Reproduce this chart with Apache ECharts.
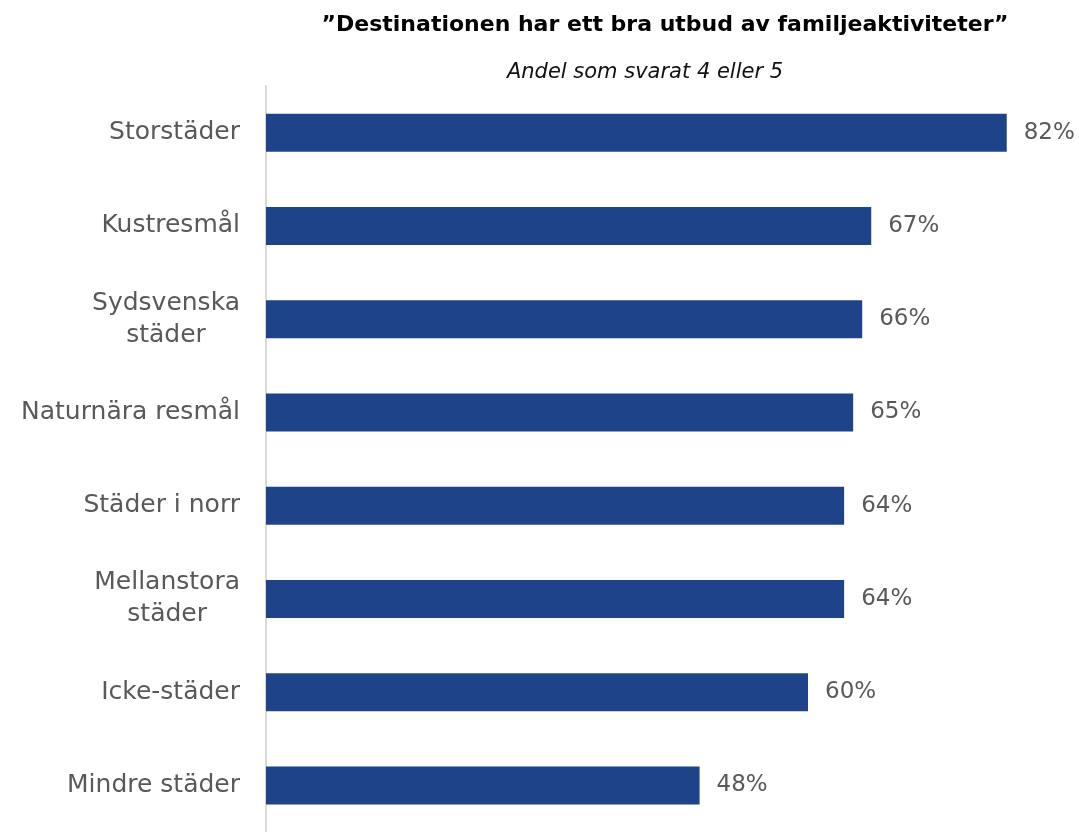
<!DOCTYPE html>
<html>
<head>
<meta charset="utf-8">
<script src="https://cdn.jsdelivr.net/npm/echarts@6/dist/echarts.min.js"></script>
<style>
  html, body { margin: 0; padding: 0; background: #fff; }
  #chart { width: 1079px; height: 832px; }
</style>
</head>
<body>
<div id="chart"></div>
<script>
// Survey categories (top to bottom) and share answering 4 or 5
const categories = [
  'Storstäder',
  'Kustresmål',
  'Sydsvenska\nstäder',
  'Naturnära resmål',
  'Städer i norr',
  'Mellanstora\nstäder',
  'Icke-städer',
  'Mindre städer'
];
const shares = [82, 67, 66, 65, 64, 64, 60, 48];

const titleText = '”Destinationen har ett bra utbud av familjeaktiviteter”';
const subtitleText = 'Andel som svarat 4 eller 5';

const FONT = '"DejaVu Sans", sans-serif';
const GREY = '#595959';

const chart = echarts.init(document.getElementById('chart'));
chart.setOption({
  animation: false,
  backgroundColor: '#ffffff',
  title: [
    {
      text: titleText,
      left: 660, top: 9, textAlign: 'center',
      textStyle: { fontFamily: FONT, fontSize: 22, fontWeight: 'bold', color: '#000' }
    },
    {
      text: subtitleText,
      left: 640, top: 57, textAlign: 'center',
      textStyle: { fontFamily: FONT, fontSize: 21, fontStyle: 'italic', fontWeight: 'normal', color: '#111' }
    }
  ],
  grid: { left: 266, top: 86, width: 813, height: 750, containLabel: false },
  xAxis: {
    type: 'value', min: 0, max: 90,
    show: false,
    splitLine: { show: false }
  },
  yAxis: {
    type: 'category',
    data: categories,
    inverse: true,
    axisLine: { show: true, lineStyle: { color: '#d9d9d9', width: 2 } },
    axisTick: { show: false },
    axisLabel: {
      margin: 26,
      formatter: v => '{c|' + v + '}',
      rich: {
        c: { fontFamily: FONT, fontSize: 25, color: GREY, align: 'center', lineHeight: 32 }
      }
    }
  },
  series: [{
    type: 'bar',
    data: shares,
    barWidth: 38,
    itemStyle: { color: '#1f4388' },
    label: {
      show: true, position: 'right', distance: 17,
      formatter: p => p.value + '%',
      fontFamily: FONT, fontSize: 23, color: GREY
    }
  }]
});
</script>
</body>
</html>
